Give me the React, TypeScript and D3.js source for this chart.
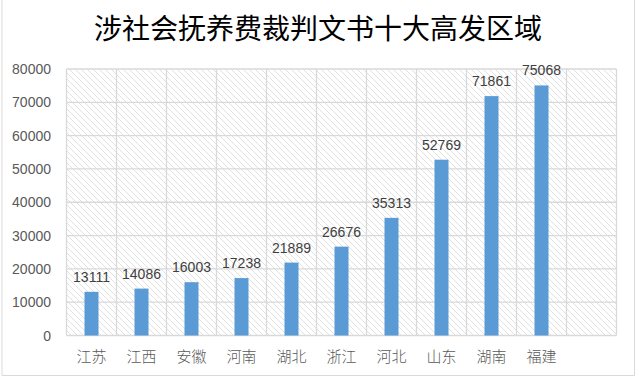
import React from "react";
import * as d3 from "d3";

const title = "涉社会抚养费裁判文书十大高发区域";
const categories = ["江苏", "江西", "安徽", "河南", "湖北", "浙江", "河北", "山东", "湖南", "福建"];
const values = [13111, 14086, 16003, 17238, 21889, 26676, 35313, 52769, 71861, 75068];
const yTicks = [0, 10000, 20000, 30000, 40000, 50000, 60000, 70000, 80000];
const emptySlot = "__empty__";

const W = 640;
const H = 380;
const plot = { left: 66.5, right: 616.5, top: 69, bottom: 335.5 };

export default function App() {
  const x = d3
    .scaleBand<string>()
    .domain([...categories, emptySlot])
    .range([plot.left, plot.right])
    .padding(0);
  const y = d3.scaleLinear().domain([0, 80000]).range([plot.bottom, plot.top]);
  const barW = x.bandwidth() * 0.28;
  const grid = "#d9d9d9";
  const cjk = "'Noto Sans CJK SC', sans-serif";
  const num = "'Liberation Sans', 'Noto Sans', sans-serif";

  const vlines = [...categories, emptySlot].map((c) => x(c) as number).concat([plot.right]);

  return (
    <svg
      width={W}
      height={H}
      style={{ position: "absolute", left: 0, top: 0, background: "#fff" }}
    >
      <defs>
        <pattern id="hatch" width="6" height="6" patternUnits="userSpaceOnUse">
          <path d="M0,0 L6,6 M-1,5 L1,7 M5,-1 L7,1" stroke="#d9d9d9" strokeWidth="0.8" />
        </pattern>
      </defs>
      {/* chart frame */}
      <line x1={2} y1={0} x2={2} y2={375.5} stroke="#d9d9d9" />
      <line x1={634.5} y1={0} x2={634.5} y2={375.5} stroke="#d9d9d9" />
      <line x1={2} y1={375.5} x2={634.5} y2={375.5} stroke="#d9d9d9" />

      <text
        x={318}
        y={39}
        textAnchor="middle"
        fontFamily={cjk}
        fontSize={28}
        fontWeight={400}
        fill="#000"
      >
        {title}
      </text>

      <rect
        x={plot.left}
        y={plot.top}
        width={plot.right - plot.left}
        height={plot.bottom - plot.top}
        fill="url(#hatch)"
      />
      {yTicks.map((t) => (
        <line
          key={"h" + t}
          x1={plot.left}
          x2={plot.right}
          y1={y(t)}
          y2={y(t)}
          stroke={grid}
          strokeWidth={1.3}
        />
      ))}
      {vlines.map((v, i) => (
        <line
          key={"v" + i}
          x1={v}
          x2={v}
          y1={plot.top}
          y2={plot.bottom}
          stroke={grid}
          strokeWidth={1.3}
        />
      ))}
      {yTicks.map((t) => (
        <text
          key={"yt" + t}
          x={51}
          y={y(t) + 5}
          textAnchor="end"
          fontFamily={num}
          fontSize={14}
          fill="#595959"
        >
          {t}
        </text>
      ))}
      {categories.map((c, i) => {
        const cx = (x(c) as number) + x.bandwidth() / 2;
        return (
          <g key={c}>
            <rect
              x={cx - barW / 2}
              y={y(values[i])}
              width={barW}
              height={y(0) - y(values[i])}
              fill="#5B9BD5"
            />
            <text
              x={cx}
              y={y(values[i]) - 10}
              textAnchor="middle"
              fontFamily={num}
              fontSize={14}
              fill="#404040"
            >
              {values[i]}
            </text>
            <text
              x={cx}
              y={362}
              textAnchor="middle"
              fontFamily={cjk}
              fontSize={15}
              fontWeight={300}
              fill="#595959"
            >
              {c}
            </text>
          </g>
        );
      })}
    </svg>
  );
}
